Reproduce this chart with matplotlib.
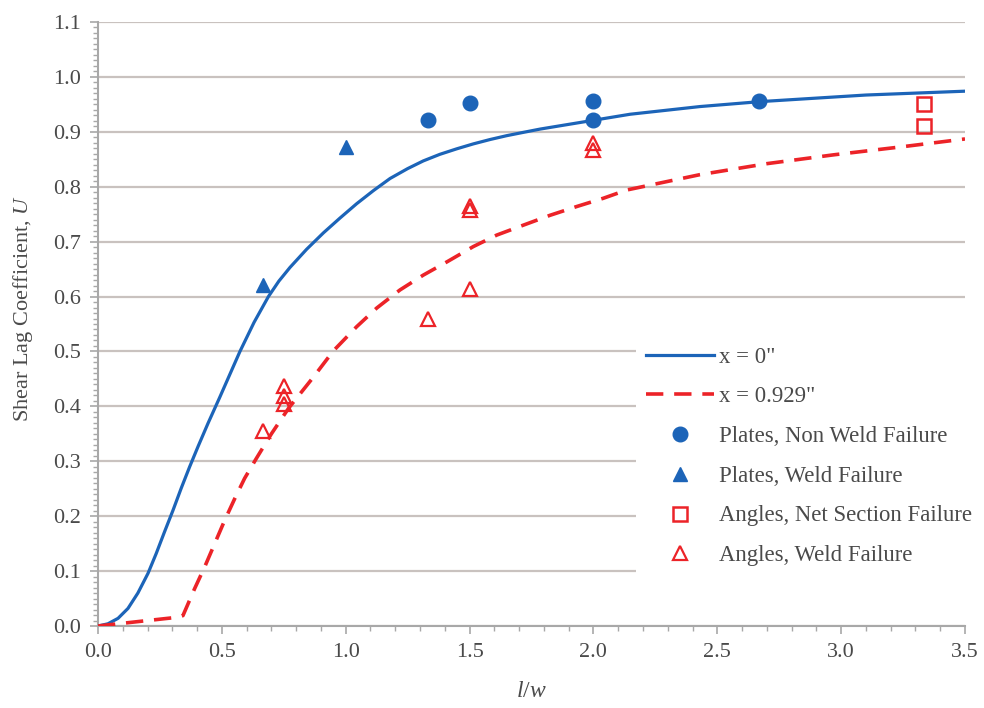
import matplotlib
matplotlib.use("Agg")
import matplotlib.pyplot as plt
from matplotlib.ticker import MultipleLocator

plt.rcParams['font.family'] = ['Liberation Serif', 'DejaVu Serif']
plt.rcParams['mathtext.fontset'] = 'custom'
plt.rcParams['mathtext.rm'] = 'Liberation Serif'
plt.rcParams['mathtext.it'] = 'Liberation Serif:italic'

# ---- data ----
curve0_x = [0.0, 0.040, 0.081, 0.121, 0.161, 0.202, 0.235, 0.269, 0.303, 0.336,
            0.370, 0.404, 0.444, 0.491, 0.573, 0.63, 0.688, 0.73, 0.775, 0.842,
            0.876, 0.910, 0.977, 1.044, 1.112, 1.179, 1.25, 1.313, 1.38, 1.448,
            1.515, 1.583, 1.65, 1.717, 1.785, 1.852, 2.0, 2.148, 2.43, 2.673,
            3.1, 3.5]
curve0_y = [0.0, 0.004, 0.014, 0.032, 0.060, 0.096, 0.132, 0.172, 0.211, 0.251,
            0.290, 0.327, 0.369, 0.416, 0.500, 0.553, 0.600, 0.628, 0.653, 0.686,
            0.701, 0.716, 0.743, 0.769, 0.793, 0.815, 0.833, 0.847, 0.859, 0.869,
            0.878, 0.886, 0.893, 0.899, 0.905, 0.910, 0.921, 0.932, 0.946, 0.955,
            0.967, 0.974]

curve1_x = [0.0, 0.161, 0.323, 0.343, 0.39, 0.431, 0.471, 0.511, 0.552, 0.592,
            0.639, 0.70, 0.77, 0.869, 0.950, 1.044, 1.125, 1.219, 1.313, 1.408,
            1.515, 1.610, 1.717, 1.825, 1.933, 2.040, 2.134, 2.43, 2.7, 2.968,
            3.25, 3.5]
curve1_y = [0.0, 0.008, 0.016, 0.019, 0.068, 0.108, 0.150, 0.192, 0.232, 0.269,
            0.305, 0.350, 0.397, 0.453, 0.501, 0.545, 0.579, 0.612, 0.639, 0.663,
            0.691, 0.712, 0.730, 0.748, 0.764, 0.779, 0.794, 0.822, 0.842, 0.858,
            0.873, 0.887]

plates_nonweld_x = [1.333, 1.5, 2.0, 2.0, 2.667]
plates_nonweld_y = [0.922, 0.952, 0.957, 0.921, 0.957]

plates_weld_x = [0.667, 1.0]
plates_weld_y = [0.621, 0.872]

angles_net_x = [3.333, 3.333]
angles_net_y = [0.950, 0.910]

angles_weld_x = [0.667, 0.75, 0.75, 0.75, 1.333, 1.5, 1.5, 1.5, 2.0, 2.0]
angles_weld_y = [0.355, 0.404, 0.418, 0.437, 0.559, 0.613, 0.757, 0.764, 0.867, 0.879]

labels = ['x = 0"', 'x = 0.929"', 'Plates, Non Weld Failure', 'Plates, Weld Failure',
          'Angles, Net Section Failure', 'Angles, Weld Failure']

x_ticks = [0.0, 0.5, 1.0, 1.5, 2.0, 2.5, 3.0, 3.5]
y_ticks = [0.0, 0.1, 0.2, 0.3, 0.4, 0.5, 0.6, 0.7, 0.8, 0.9, 1.0, 1.1]

BLUE = '#1c64b8'
RED = '#ec2328'
GRID = '#c9c2bf'
AXC = '#a8a8a8'
TXT = '#4a4a4a'

fig = plt.figure(figsize=(9.84, 7.08), dpi=100)
ax = fig.add_axes([98/984, 1-626/708, (965-98)/984, (626-22)/708])

ax.plot(curve0_x, curve0_y, color=BLUE, lw=2.3, label=labels[0], zorder=3,
        solid_joinstyle='round')
ax.plot(curve1_x, curve1_y, color=RED, lw=2.6, linestyle=(0, (4.8, 3.0)),
        label=labels[1], zorder=3)
ax.plot(plates_nonweld_x, plates_nonweld_y, 'o', color=BLUE, ms=10.5, mec=BLUE,
        ls='none', label=labels[2], zorder=4)
ax.plot(plates_weld_x, plates_weld_y, '^', color=BLUE, ms=10.5, mec=BLUE,
        ls='none', label=labels[3], zorder=4)
ax.plot(angles_net_x, angles_net_y, 's', mfc='none', mec=RED, mew=1.8, ms=9.5,
        ls='none', label=labels[4], zorder=4)
ax.plot(angles_weld_x, angles_weld_y, '^', mfc='none', mec=RED, mew=1.6, ms=10,
        ls='none', label=labels[5], zorder=4)

ax.set_xlim(0, 3.5)
ax.set_ylim(0, 1.1)
ax.set_xticks(x_ticks)
ax.set_yticks(y_ticks)
ax.set_xticklabels([f"{v:.1f}" for v in x_ticks])
ax.set_yticklabels([f"{v:.1f}" for v in y_ticks])
ax.xaxis.set_minor_locator(MultipleLocator(0.1))
ax.yaxis.set_minor_locator(MultipleLocator(0.01))

ax.grid(axis='y', which='major', color=GRID, lw=1.6, zorder=0)
ax.set_axisbelow(True)
for s in ['top', 'right']:
    ax.spines[s].set_visible(False)
for s in ['left', 'bottom']:
    ax.spines[s].set_color(AXC)
    ax.spines[s].set_linewidth(1.5)

ax.tick_params(axis='both', which='major', direction='out', length=6, width=1.2,
               color=AXC, labelsize=16, labelcolor=TXT, pad=6)
ax.tick_params(axis='both', which='minor', direction='out', length=3.5, width=1.0,
               color=AXC)

ax.set_xlabel(r'$\mathit{l/w}$', fontsize=17, color=TXT, labelpad=14)
ax.set_ylabel(r'Shear Lag Coefficient, $\mathit{U}$', fontsize=16, color=TXT)
ax.yaxis.set_label_coords(-0.073, 0.526)

leg = ax.legend(loc='upper left', bbox_to_anchor=(0.621, 0.4774), fontsize=16.4,
                frameon=True, facecolor='white', edgecolor='none', framealpha=1,
                handlelength=3.0, handletextpad=0.22, labelspacing=0.82,
                borderpad=0.4, borderaxespad=0, fancybox=False)
for t in leg.get_texts():
    t.set_color(TXT)
leg.set_zorder(5)

fig.savefig('out.png', dpi=100, facecolor='white')
